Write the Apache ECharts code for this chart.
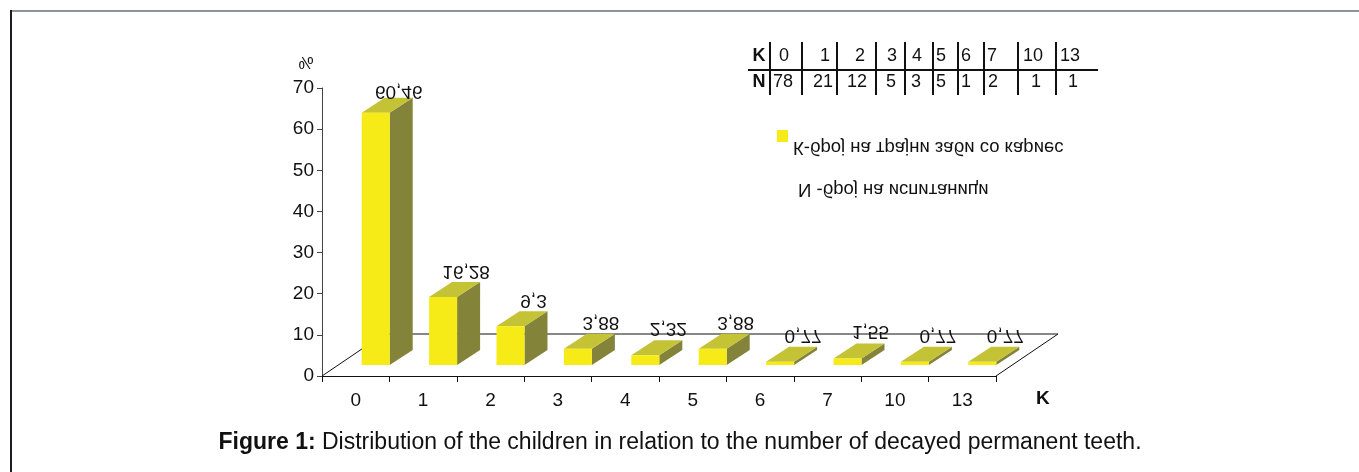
<!DOCTYPE html>
<html><head><meta charset="utf-8">
<script src="https://cdn.jsdelivr.net/npm/echarts@6/dist/echarts.min.js"></script>
<style>html,body{margin:0;padding:0;background:#fff}#c{width:1359px;height:472px}</style>
</head><body><div id="c"></div>
<script>
// ---- data ----
const categories = ['0', '1', '2', '3', '4', '5', '6', '7', '10', '13'];
const percentValues = [60.46, 16.28, 9.3, 3.88, 2.32, 3.88, 0.77, 1.55, 0.77, 0.77];
const valueLabels = ['60,46', '16,28', '9,3', '3,88', '2,32', '3,88', '0,77', '1,55', '0,77', '0,77'];
const childrenCounts = [78, 21, 12, 5, 3, 5, 1, 2, 1, 1];
const yMin = 0, yMax = 70, yStep = 10;
const legendTexts = ['К-број на трајни заби со кариес', 'N -број на испитаници'];
const tableHeads = ['K', 'N'];
const axisUnit = '%';
const axisNameX = 'K';
const captionBold = 'Figure 1:';
const captionRest = ' Distribution of the children in relation to the number of decayed permanent teeth.';

// ---- styles / layout ----
const FONT = '"Liberation Sans", Arial, Helvetica, sans-serif';
const C_FRONT = '#f6eb16', C_TOP = '#c4c235', C_SIDE = '#83833a';
const DEPTH_X = 23, DEPTH_Y = -15;      // bar depth
const FLOOR_X = 62, FLOOR_Y = -42;      // floor depth
const BAR_SHIFT_X = 20, BAR_SHIFT_Y = -11, BAR_W = 28;

const chart = echarts.init(document.getElementById('c'), null, {renderer: 'canvas'});

function flippedText(x, y, text, size, align, weight) {
  return {
    type: 'text', x: x, y: y, scaleY: -1, silent: true,
    style: {text: text, x: 0, y: 0, align: align || 'center', verticalAlign: 'middle',
      fontSize: size, fontFamily: FONT, fontWeight: weight || 'normal', fill: '#111'}
  };
}

// table
const colRow1 = [759, 784, 825, 860, 892, 917, 941, 966, 992, 1033, 1070];
const colRow2 = [759, 783, 823, 857, 891, 916, 941, 966, 993, 1036, 1073];
const tableLines = [770, 802, 837, 876, 905, 933, 958, 984, 1018, 1056];
const graphics = [];
graphics.push({type: 'line', shape: {x1: 11, y1: 11, x2: 1359, y2: 11}, style: {stroke: '#8c939b', lineWidth: 2}, silent: true});
graphics.push({type: 'line', shape: {x1: 11, y1: 10, x2: 11, y2: 472}, style: {stroke: '#1c1c28', lineWidth: 2}, silent: true});
graphics.push({type: 'line', shape: {x1: 748, y1: 70, x2: 1098, y2: 70}, style: {stroke: '#111', lineWidth: 2}, silent: true});
tableLines.forEach(function (x) {
  graphics.push({type: 'line', shape: {x1: x, y1: 42, x2: x, y2: 95}, style: {stroke: '#111', lineWidth: 2}, silent: true});
});
const row1 = [tableHeads[0]].concat(categories);
const row2 = [tableHeads[1]].concat(childrenCounts.map(String));
row1.forEach(function (t, k) {
  graphics.push({type: 'text', x: colRow1[k], y: 56, silent: true,
    style: {text: t, align: 'center', verticalAlign: 'middle', fontSize: 18, fontFamily: FONT,
      fontWeight: k === 0 ? 'bold' : 'normal', fill: '#111'}});
});
row2.forEach(function (t, k) {
  graphics.push({type: 'text', x: colRow2[k], y: 82, silent: true,
    style: {text: t, align: 'center', verticalAlign: 'middle', fontSize: 18, fontFamily: FONT,
      fontWeight: k === 0 ? 'bold' : 'normal', fill: '#111'}});
});
// legend
graphics.push({type: 'rect', shape: {x: 777, y: 130, width: 11, height: 12}, style: {fill: C_FRONT}, silent: true});
graphics.push(flippedText(793, 147, legendTexts[0], 18.5, 'left'));
graphics.push(flippedText(798, 189, legendTexts[1], 18.5, 'left'));
// y unit
graphics.push(flippedText(306, 62, axisUnit, 17, 'center'));
// caption
graphics.push({type: 'text', x: 680, y: 443, silent: true,
  style: {text: '{b|' + captionBold + '}' + captionRest, align: 'center', verticalAlign: 'middle',
    fontSize: 23, fontFamily: FONT, fill: '#111',
    rich: {b: {fontWeight: 'bold', fontSize: 23, fontFamily: FONT, fill: '#111'}}}});

const option = {
  animation: false,
  backgroundColor: '#fff',
  grid: {left: 322, top: 88, width: 674, height: 288},
  xAxis: {
    type: 'category', data: categories,
    name: axisNameX, nameLocation: 'end', nameGap: 40,
    nameTextStyle: {fontWeight: 'bold', fontSize: 19, fontFamily: FONT, color: '#111',
      align: 'left', verticalAlign: 'top', padding: [13, 0, 0, 0]},
    axisLine: {lineStyle: {color: '#111', width: 1}},
    axisTick: {show: true, length: 6, lineStyle: {color: '#111'}},
    axisLabel: {fontSize: 19, fontFamily: FONT, color: '#111', margin: 15},
    splitLine: {show: false}
  },
  yAxis: [{
    type: 'value', min: yMin, max: yMax, interval: yStep,
    axisLine: {show: true, lineStyle: {color: '#444', width: 1}},
    axisTick: {show: true, length: 5, lineStyle: {color: '#444'}},
    axisLabel: {fontSize: 19, fontFamily: FONT, color: '#111', margin: 8},
    splitLine: {show: false}
  }, {
    type: 'value', min: 0, max: 69, show: false, splitLine: {show: false}
  }],
  graphic: graphics,
  series: [{
    type: 'custom', name: 'floor', silent: true, z: 1,
    data: [[0, 0]],
    renderItem: function (params, api) {
      const cs = params.coordSys;
      const bx = cs.x, by = cs.y + cs.height, w = cs.width;
      return {type: 'polyline', shape: {points: [[bx, by], [bx + FLOOR_X, by + FLOOR_Y],
        [bx + w + FLOOR_X, by + FLOOR_Y], [bx + w, by]]},
        style: {stroke: '#111', lineWidth: 1, fill: null}};
    }
  }, {
    type: 'custom', name: 'bars', z: 3, yAxisIndex: 1,
    data: percentValues.map(function (v, i) { return [i, v]; }),
    renderItem: function (params, api) {
      const i = api.value(0), v = api.value(1);
      const base = api.coord([i, 0]);
      const top = api.coord([i, v]);
      const cx = base[0] + BAR_SHIFT_X;
      const x0 = cx - BAR_W / 2, x1 = cx + BAR_W / 2;
      const yb = base[1] + BAR_SHIFT_Y, yt = top[1] + BAR_SHIFT_Y;
      const labelGap = -12 + 0.024 * (yb - yt);
      return {type: 'group', children: [
        {type: 'polygon', shape: {points: [[x1, yt], [x1 + DEPTH_X, yt + DEPTH_Y], [x1 + DEPTH_X, yb + DEPTH_Y], [x1, yb]]}, style: {fill: C_SIDE}},
        {type: 'polygon', shape: {points: [[x0, yt], [x1, yt], [x1 + DEPTH_X, yt + DEPTH_Y], [x0 + DEPTH_X, yt + DEPTH_Y]]}, style: {fill: C_TOP}},
        {type: 'rect', shape: {x: x0, y: yt, width: BAR_W, height: yb - yt}, style: {fill: C_FRONT}},
        flippedText(cx + DEPTH_X, yt + DEPTH_Y + labelGap, valueLabels[params.dataIndex], 19, 'center')
      ]};
    }
  }]
};
chart.setOption(option);
</script>
</body></html>
